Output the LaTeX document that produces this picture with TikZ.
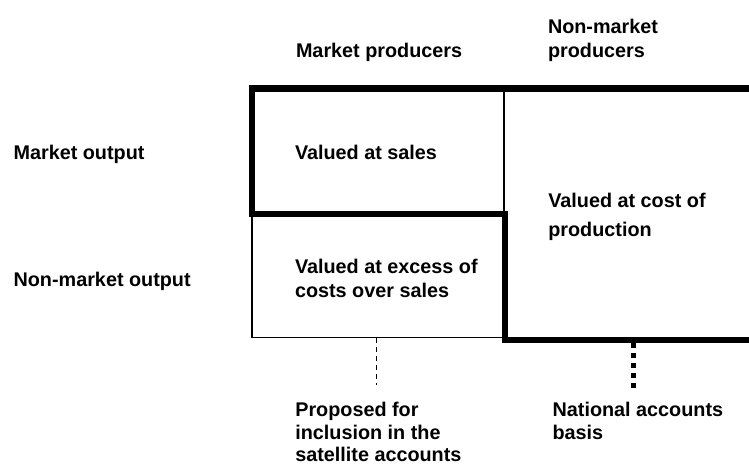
\documentclass[tikz,border=0pt]{standalone}
\usepackage{fontspec}
\setmainfont{Liberation Sans}
\begin{document}
\begin{tikzpicture}[x=1pt,y=-1pt,
  lbl/.style={font=\bfseries\fontsize{19.8}{23.4}\selectfont, inner sep=0pt, outer sep=0pt, anchor=north west, align=left},
  wide/.style={lbl, font=\bfseries\fontsize{19.8}{29}\selectfont},
  thickline/.style={line width=6.5pt, line join=miter},
  thinline/.style={line width=1.5pt},
  dashline/.style={line width=1pt, dash pattern=on 4.5pt off 4.5pt},
  dotline/.style={line width=4.5pt, dash pattern=on 5pt off 5pt}]
\useasboundingbox (0,0) rectangle (749,463);
% coordinates of the grid
\coordinate (tl) at (252,88.4);
\coordinate (tr) at (749,88.4);
\coordinate (ml) at (252,214);
\coordinate (mm) at (505,214);
\coordinate (bm) at (505,340);
\coordinate (br) at (749,340);
\coordinate (vt) at (504,88.4);
\coordinate (vb) at (504,214);
\coordinate (lbl) at (252,337.5);
\coordinate (lbr) at (505,337.5);
\coordinate (dashtop) at (376.7,338);
\coordinate (dashbot) at (376.7,385);
\coordinate (dottop) at (633.3,343);
\coordinate (dotbot) at (633.3,388);
% lines
\draw[thinline] (vt) -- (vb);
\draw[thinline] (ml) -- (lbl) -- (lbr);
\draw[thickline] (tr) -- (tl) -- (ml) -- (mm) -- (bm) -- (br);
\draw[dashline] (dashtop) -- (dashbot);
\draw[dotline] (dottop) -- (dotbot);
% texts
\node[lbl] (mp) at (296,43.3) {Market producers};
\node[lbl, font=\bfseries\fontsize{19.8}{24}\selectfont] (nmp) at (548,19) {Non-market\\producers};
\node[lbl] (mo) at (13.6,145) {Market output};
\node[lbl] (nmo) at (13.6,271.7) {Non-market output};
\node[lbl] (vs) at (295,145) {Valued at sales};
\node[lbl] (ve) at (295,259.3) {Valued at excess of\\costs over sales};
\node[wide] (vc) at (548.3,193.3) {Valued at cost of\\production};
\node[lbl, font=\bfseries\fontsize{19.8}{22.4}\selectfont] (prop) at (295.3,402.3) {Proposed for\\inclusion in the\\satellite accounts};
\node[lbl, font=\bfseries\fontsize{19.8}{23}\selectfont] (nat) at (552.6,402.5) {National accounts\\basis};
\end{tikzpicture}
\end{document}
